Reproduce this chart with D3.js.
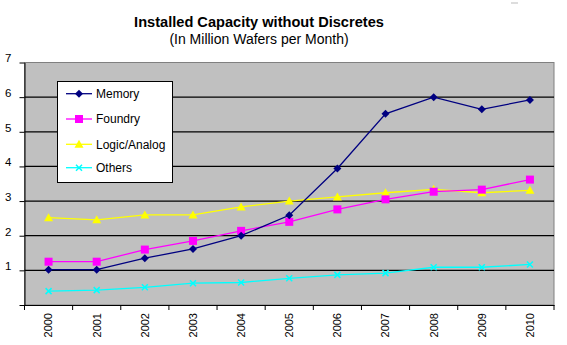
<html>
<head>
<meta charset="utf-8">
<script src="https://d3js.org/d3.v7.min.js"></script>
<style>
    body { margin:0; background:#fff; }
    text { font-family: Arial, "Liberation Sans", sans-serif; fill:#000; }
</style>
</head>
<body>
<div id="chart"></div>
<script>
    var years = ["2000","2001","2002","2003","2004","2005","2006","2007","2008","2009","2010"];
    var memory = [1.02, 1.02, 1.35, 1.62, 2.0, 2.59, 3.94, 5.52, 6.0, 5.65, 5.92];
    var foundry = [1.25, 1.25, 1.6, 1.85, 2.14, 2.4, 2.76, 3.05, 3.27, 3.33, 3.62];
    var logic = [2.52, 2.46, 2.6, 2.6, 2.83, 3.0, 3.12, 3.24, 3.34, 3.24, 3.31];
    var others = [0.4, 0.43, 0.51, 0.63, 0.65, 0.77, 0.87, 0.92, 1.09, 1.09, 1.17];
    var yTicks = [0,1,2,3,4,5,6,7];

    var series = [
        {name:"Memory", values:memory, color:"#000080", shape:"diamond"},
        {name:"Foundry", values:foundry, color:"#FF00FF", shape:"square"},
        {name:"Logic/Analog", values:logic, color:"#FFFF00", shape:"triangle"},
        {name:"Others", values:others, color:"#00FFFF", shape:"cross"}
    ];

    var width = 567, height = 345;
    var plotLeft = 24.5, plotRight = 554, plotTop = 62.5, plotBottom = 305;

    var svg = d3.select("#chart").append("svg")
        .attr("width", width).attr("height", height);

    var x = d3.scaleBand().domain(years).range([plotLeft, plotRight]);
    var y = d3.scaleLinear().domain([0,7]).range([plotBottom, plotTop]);

    // plot area
    svg.append("rect")
        .attr("x", plotLeft).attr("y", plotTop)
        .attr("width", plotRight-plotLeft).attr("height", plotBottom-plotTop)
        .attr("fill", "#C0C0C0")
        .attr("stroke", "#808080").attr("stroke-width", 1);

    // gridlines
    svg.append("g").selectAll("line")
        .data(yTicks.filter(d => d > 0 && d < 7))
        .enter().append("line")
        .attr("x1", plotLeft).attr("x2", plotRight)
        .attr("y1", d => y(d)).attr("y2", d => y(d))
        .attr("stroke", "#000").attr("stroke-width", 1.3);

    // y axis
    var yAxis = svg.append("g")
        .attr("transform", "translate(" + plotLeft + ",0)")
        .call(d3.axisLeft(y).tickValues(yTicks).tickSize(5).tickSizeOuter(0).tickFormat(d => d === 0 ? "" : d));
    yAxis.select(".domain").attr("stroke", "#000");
    yAxis.selectAll("text").attr("font-size", 11.5).attr("x", -13).attr("dy", "-0.05em");

    // x axis
    var xAxis = svg.append("g")
        .attr("transform", "translate(0," + plotBottom + ")")
        .call(d3.axisBottom(x).tickSize(0).tickSizeOuter(0));
    xAxis.select(".domain").attr("stroke", "#000");
    xAxis.selectAll("text")
        .attr("font-size", 11)
        .attr("transform", "rotate(-90)")
        .attr("text-anchor", "end")
        .attr("x", -8).attr("y", 0).attr("dy", "0.35em");
    // category separator ticks
    svg.append("g").selectAll("line")
        .data(d3.range(years.length + 1))
        .enter().append("line")
        .attr("x1", i => plotLeft + i * x.step()).attr("x2", i => plotLeft + i * x.step())
        .attr("y1", plotBottom).attr("y2", plotBottom + 5)
        .attr("stroke", "#000");

    var line = d3.line()
        .x((d, i) => x(years[i]) + x.bandwidth()/2)
        .y(d => y(d));

    function marker(g, shape, color, cx, cy) {
        if (shape === "diamond") {
            g.append("path").attr("d", "M" + cx + "," + (cy-4) + "L" + (cx+4) + "," + cy + "L" + cx + "," + (cy+4) + "L" + (cx-4) + "," + cy + "Z")
                .attr("fill", color);
        } else if (shape === "square") {
            g.append("rect").attr("x", cx-4).attr("y", cy-4).attr("width", 8).attr("height", 8).attr("fill", color);
        } else if (shape === "triangle") {
            g.append("path").attr("d", "M" + cx + "," + (cy-4.5) + "L" + (cx+4.5) + "," + (cy+3.5) + "L" + (cx-4.5) + "," + (cy+3.5) + "Z")
                .attr("fill", color);
        } else {
            g.append("path").attr("d", "M" + (cx-3) + "," + (cy-3) + "L" + (cx+3) + "," + (cy+3) + "M" + (cx-3) + "," + (cy+3) + "L" + (cx+3) + "," + (cy-3))
                .attr("stroke", color).attr("stroke-width", 1.5);
        }
    }

    // series drawn in reverse so memory is on top
    series.slice().reverse().forEach(function(s) {
        var g = svg.append("g");
        g.append("path").datum(s.values)
            .attr("d", line)
            .attr("fill", "none")
            .attr("stroke", s.color)
            .attr("stroke-width", 1.3);
        s.values.forEach(function(v, i) {
            marker(g, s.shape, s.color, x(years[i]) + x.bandwidth()/2, y(v));
        });
    });

    // legend
    var lg = svg.append("g");
    lg.append("rect")
        .attr("x", 57.5).attr("y", 81.5).attr("width", 115).attr("height", 101)
        .attr("fill", "#fff").attr("stroke", "#000").attr("stroke-width", 1);
    var legY = [93.7, 119, 144.3, 167.7];
    series.forEach(function(s, i) {
        lg.append("line")
            .attr("x1", 66).attr("x2", 92)
            .attr("y1", legY[i]).attr("y2", legY[i])
            .attr("stroke", s.color).attr("stroke-width", 1.3);
        marker(lg, s.shape, s.color, 79, legY[i]);
        lg.append("text")
            .attr("x", 96).attr("y", legY[i]).attr("dy", "0.35em")
            .attr("font-size", 12)
            .text(s.name);
    });

    // titles
    svg.append("text")
        .attr("x", 259).attr("y", 26.5)
        .attr("text-anchor", "middle")
        .attr("font-size", 14.6).attr("font-weight", "bold")
        .text("Installed Capacity without Discretes");
    svg.append("text")
        .attr("x", 259).attr("y", 43.5)
        .attr("text-anchor", "middle")
        .attr("font-size", 14)
        .text("(In Million Wafers per Month)");

    svg.append("line")
        .attr("x1", 511).attr("x2", 518).attr("y1", 3).attr("y2", 3)
        .attr("stroke", "#bbb");
</script>
</body>
</html>
